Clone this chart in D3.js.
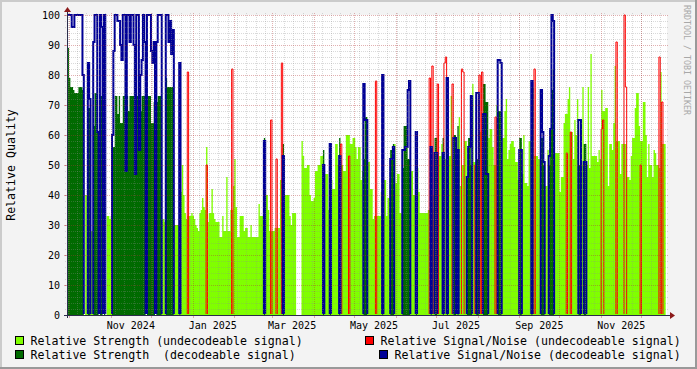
<!DOCTYPE html>
<html>
<head>
<meta charset="utf-8">
<script src="https://cdn.jsdelivr.net/npm/d3@7"></script>
<style>
  body { margin: 0; background: #f3f3f3; }
  svg { display: block; }
  text { font-family: "DejaVu Sans Mono", monospace; }
</style>
</head>
<body>
<div id="chart"></div>
<script>
// Daily values, first day = 29 Sep 2024 (UTC). 0 = no value of that kind that day.
const firstDay = Date.UTC(2024, 8, 29);

const strengthUndec = [
  0,0,0,0,0,0,0,0,0,0, 0,0,0,0,40,40,0,0,28,28, 0,0,0,0,0,0,0,0,0,0,
  33,33,32,33,0,0,0,0,0,0, 0,0,0,0,0,0,0,0,0,0, 0,0,0,0,0,0,0,0,0,0,
  0,0,0,0,0,0,0,0,0,0, 0,32,32,31,0,0,0,0,0,0, 30,30,30,30,0,41,50,40,34,32,
  33,33,33,34,33,32,30,29,28,34, 35,39,36,35,56,31,34,34,42,34, 32,31,31,31,26,26,33,28,28,46,
  28,28,35,35,43,52,36,26,26,33, 33,33,28,29,29,26,26,30,26,26, 26,26,26,37,33,33,33,0,40,40,
  35,28,28,28,28,29,29,29,29,45, 45,0,40,40,40,40,33,30,34,34, 34,0,0,0,0,58,53,49,49,50,
  50,40,38,38,39,48,48,50,50,53, 53,0,47,47,47,35,0,45,42,42, 57,57,50,0,50,50,48,48,60,60,
  60,57,57,59,59,56,52,56,56,45, 48,0,0,0,51,51,42,42,32,33, 33,33,33,33,41,0,45,45,33,39,
  39,0,0,0,57,44,47,47,34,34, 0,0,0,0,0,0,48,48,40,40, 0,49,41,34,34,34,34,34,34,35,
  35,0,35,40,0,0,40,53,53,57, 0,52,52,0,53,53,73,52,0,0, 50,0,66,43,50,50,58,58,0,0,
  0,0,77,51,51,0,0,61,61,61, 0,0,0,0,59,62,62,56,50,50, 70,0,0,0,59,59,68,72,52,55,
  57,58,58,56,51,51,45,0,0,47, 60,44,44,43,58,58,0,76,53,53, 53,52,52,0,0,0,43,43,55,0,
  0,0,0,54,54,54,54,41,46,46, 64,67,67,72,76,61,61,52,65,60, 72,0,0,50,76,0,0,50,76,49,
  87,53,53,53,53,51,55,52,75,68, 68,69,69,43,57,57,55,64,83,58, 58,58,47,57,57,57,57,46,46,45,
  53,59,59,69,74,74,63,58,58,71, 71,60,46,57,50,50,46,55,54,50, 50,49,81,57,57,57
];

const strengthDec = [
  90,89,79,76,76,75,74,74,74,76, 76,76,75,0,0,0,69,69,0,0, 63,74,74,61,0,73,73,0,73,0,
  0,0,0,0,56,56,73,73,67,73, 64,64,73,73,73,73,68,73,73,73, 73,73,73,73,68,68,73,73,73,0,
  73,73,73,64,64,71,0,71,73,73, 73,0,0,0,79,76,76,76,76,76, 0,0,0,0,76,0,0,0,0,0,
  0,0,0,0,0,0,0,0,0,0, 0,0,0,0,0,0,0,0,0,0, 0,0,0,0,0,0,0,0,0,0,
  0,0,0,0,0,0,0,0,0,0, 0,0,0,0,0,0,0,0,0,0, 0,0,0,0,0,0,0,59,0,0,
  0,0,0,0,0,0,0,0,0,0, 0,57,0,0,0,0,0,0,0,0, 0,0,0,0,0,0,0,0,0,0,
  0,0,0,0,0,0,0,0,0,0, 0,55,0,0,0,0,45,0,0,0, 0,0,0,59,0,0,0,0,0,0,
  0,0,0,0,0,0,0,0,0,0, 0,52,66,66,0,0,0,0,0,0, 0,0,0,0,0,45,0,0,0,0,
  0,55,55,57,0,0,0,0,0,0, 49,63,63,63,52,52,0,0,0,0, 49,0,0,0,0,0,0,0,0,0,
  0,45,0,0,59,59,0,0,0,0, 59,0,0,59,0,0,0,0,60,60, 0,63,0,0,0,0,0,0,46,59,
  59,50,0,0,0,52,52,0,0,0, 77,77,71,71,0,0,0,0,0,0, 0,68,68,68,0,0,0,0,0,0,
  0,0,0,0,0,0,0,59,59,0, 0,0,0,0,0,0,50,0,0,0, 0,0,0,59,59,50,0,0,0,50,
  62,75,82,0,0,0,0,0,0,0, 0,0,0,0,0,0,0,0,0,0, 0,50,50,0,0,57,57,0,0,0,
  0,0,0,0,0,0,0,0,0,0, 0,0,0,0,0,0,0,0,0,0, 0,0,0,0,0,0,0,0,0,0,
  0,0,0,0,0,0,0,0,0,0, 0,0,0,0,0,0,0,0,0,0, 0,0,0,0,0,0
];

const snrUndec = [
  0,0,0,0,0,0,0,0,0,0, 0,0,0,0,0,0,0,0,0,0, 0,0,0,0,0,0,0,0,0,0,
  0,0,0,0,0,0,0,0,0,0, 0,0,0,0,0,0,0,0,0,0, 0,0,0,0,0,0,0,0,0,0,
  0,0,0,0,0,0,0,0,0,0, 0,0,0,0,0,0,0,0,0,0, 0,0,0,0,0,0,0,0,0,0,
  81,0,0,0,0,0,0,0,0,0, 0,0,0,0,50,0,0,0,0,0, 0,0,0,0,0,0,0,0,0,0,
  0,0,0,82,0,0,0,0,0,0, 0,0,0,0,0,0,0,0,0,0, 0,0,0,0,0,0,0,0,0,0,
  0,0,65,0,0,0,52,0,0,0, 84,0,0,0,0,0,0,0,0,0, 0,0,0,0,0,0,0,0,0,0,
  0,0,0,0,0,0,0,0,0,0, 0,0,0,0,0,0,0,0,0,0, 0,0,0,0,57,0,0,0,0,0,
  53,0,0,0,0,0,0,0,0,0, 0,0,0,0,0,0,0,0,0,0, 78,0,0,0,0,0,0,0,0,0,
  0,0,0,0,0,0,0,0,0,0, 0,0,0,0,0,0,0,0,0,0, 0,0,0,0,0,0,0,0,0,0,
  79,0,83,0,0,0,77,0,0,0, 0,84,86,0,0,0,0,77,0,0, 0,0,0,0,82,81,0,0,0,0,
  0,0,0,0,50,0,0,80,0,81, 0,0,0,0,0,0,0,0,0,66, 0,0,0,0,0,0,0,0,0,0,
  0,0,0,0,0,0,0,0,0,0, 0,0,0,0,0,0,0,0,82,0, 0,0,0,0,0,0,0,0,0,0,
  0,0,0,0,0,0,0,0,0,0, 0,0,54,0,0,61,0,0,0,0, 0,0,0,0,0,0,0,0,0,0,
  0,0,0,0,0,0,0,0,62,65, 0,0,0,0,0,0,0,0,0,91, 0,0,0,0,0,100,76,0,0,0,
  0,0,0,0,0,0,0,50,0,0, 0,0,0,0,0,0,0,0,0,0, 0,86,0,71,0,0
];

const snrDec = [
  100,100,100,100,96,96,100,100,100,100, 100,100,80,0,0,0,84,72,0,0, 91,100,100,61,0,100,96,0,100,0,
  0,0,0,0,60,88,100,100,98,98, 90,85,100,100,48,100,100,91,100,100, 90,47,100,100,55,80,85,100,91,0,
  100,100,100,88,84,91,0,91,100,100, 100,0,0,0,100,100,91,98,87,95, 0,0,0,0,84,0,0,0,0,0,
  0,0,0,0,0,0,0,0,0,0, 0,0,0,0,0,0,0,0,0,0, 0,0,0,0,0,0,0,0,0,0,
  0,0,0,0,0,0,0,0,0,0, 0,0,0,0,0,0,0,0,0,0, 0,0,0,0,0,0,0,58,0,0,
  0,0,0,0,0,0,0,0,0,0, 0,53,0,0,0,0,0,0,0,0, 0,0,0,0,0,0,0,0,0,0,
  0,0,0,0,0,0,0,0,0,0, 0,50,0,0,0,0,57,0,0,0, 0,0,0,53,0,0,0,0,0,0,
  0,0,0,0,0,0,0,0,0,0, 0,77,65,65,0,0,0,0,0,0, 0,0,0,0,0,80,0,0,0,0,
  0,52,52,56,0,0,0,0,0,0, 55,55,56,56,75,78,0,0,0,0, 61,0,0,0,0,0,0,0,0,0,
  0,56,0,0,54,54,0,0,0,0, 54,0,0,79,0,0,0,0,59,59, 0,55,0,0,0,0,0,0,46,56,
  56,73,0,0,0,74,74,0,0,0, 67,67,47,47,0,0,0,0,0,0, 0,85,85,84,0,0,0,0,0,0,
  0,0,0,0,0,0,0,55,55,0, 0,0,0,0,0,0,78,0,0,0, 0,0,0,75,61,51,0,0,0,53,
  62,100,98,0,0,0,0,0,0,0, 0,0,0,0,0,0,0,0,0,0, 0,65,65,0,0,51,51,0,0,0,
  0,0,0,0,0,0,0,0,0,0, 0,0,0,0,0,0,0,0,0,0, 0,0,0,0,0,0,0,0,0,0,
  0,0,0,0,0,0,0,0,0,0, 0,0,0,0,0,0,0,0,0,0, 0,0,0,0,0,0
];

const yTicks = d3.range(0, 101, 10);
const legendLabels = [
  "Relative Strength (undecodeable signal)",
  "Relative Signal/Noise (undecodeable signal)",
  "Relative Strength  (decodeable signal)",
  "Relative Signal/Noise (decodeable signal)"
];
const legendColors = ["#80ff00", "#ff0000", "#006a00", "#000096"];

// Canvas ---------------------------------------------------------------------
const width = 697, height = 369;
const plotLeft = 67, plotRight = 667, plotTop = 15, plotBottom = 315;

const svg = d3.select("#chart").append("svg")
  .attr("width", width)
  .attr("height", height);

svg.append("rect").attr("width", width).attr("height", height).attr("fill", "#f3f3f3");
// 3d border like rrdtool
svg.append("path").attr("d", `M0,${height} V0 H${width}`).attr("fill", "none")
  .attr("stroke", "#cbcbcb").attr("stroke-width", 4);
svg.append("path").attr("d", `M0,${height} H${width} V0`).attr("fill", "none")
  .attr("stroke", "#999999").attr("stroke-width", 4);

svg.append("rect")
  .attr("x", plotLeft).attr("y", plotTop)
  .attr("width", plotRight - plotLeft).attr("height", plotBottom - plotTop)
  .attr("fill", "#ffffff");

const x = d3.scaleUtc()
  .domain([new Date(Date.UTC(2024, 8, 29, 12)), new Date(Date.UTC(2025, 11, 20))])
  .range([plotLeft, plotRight]);
const y = d3.scaleLinear().domain([0, 100]).range([plotBottom, plotTop]);

const days = strengthDec.map((d, i) => new Date(firstDay + i * 864e5));
const endDay = new Date(firstDay + days.length * 864e5);

const series = function(values) {
  const pts = values.map((v, i) => ({ date: days[i], v: v }));
  pts.push({ date: endDay, v: 0 });
  return pts;
};

const defs = svg.append("defs");
defs.append("clipPath").attr("id", "clipArea")
  .append("rect").attr("x", plotLeft).attr("y", plotTop)
  .attr("width", plotRight - plotLeft).attr("height", plotBottom - plotTop);
defs.append("clipPath").attr("id", "clipLine")
  .append("rect").attr("x", plotLeft).attr("y", plotTop - 2)
  .attr("width", plotRight - plotLeft).attr("height", plotBottom - plotTop + 1);

const area = d3.area()
  .curve(d3.curveStepAfter)
  .x(d => x(d.date))
  .y0(y(0))
  .y1(d => y(d.v));
const line = d3.line()
  .curve(d3.curveStepAfter)
  .x(d => x(d.date))
  .y(d => y(d.v));

const plot = svg.append("g").attr("clip-path", "url(#clipArea)");
plot.append("path").attr("d", area(series(strengthUndec))).attr("fill", legendColors[0]);
plot.append("path").attr("d", area(series(strengthDec))).attr("fill", legendColors[2]);

const lines = svg.append("g").attr("clip-path", "url(#clipLine)");
lines.append("path").attr("d", line(series(snrUndec)))
  .attr("fill", "none").attr("stroke", legendColors[1]).attr("stroke-width", 1);
lines.append("path").attr("d", line(series(snrDec)))
  .attr("fill", "none").attr("stroke", legendColors[3]).attr("stroke-width", 2);

// Grid -----------------------------------------------------------------------
const gridColor = "rgba(140,140,140,0.32)";
const mgridColor = "rgba(180,50,50,0.38)";
const grid = svg.append("g").attr("shape-rendering", "crispEdges");

d3.range(0, 101, 2).filter(v => v % 10 != 0).forEach(v => {
  grid.append("line")
    .attr("x1", plotLeft - 2).attr("x2", plotRight + 2)
    .attr("y1", Math.round(y(v)) + 0.5).attr("y2", Math.round(y(v)) + 0.5)
    .attr("stroke", gridColor).attr("stroke-dasharray", "1,1");
});
d3.utcMonday.range(x.domain()[0], x.domain()[1]).forEach(d => {
  const px = Math.round(x(d)) + 0.5;
  grid.append("line")
    .attr("x1", px).attr("x2", px).attr("y1", plotTop - 2).attr("y2", plotBottom + 2)
    .attr("stroke", gridColor).attr("stroke-dasharray", "1,1");
});
yTicks.forEach(v => {
  const py = Math.round(y(v)) + 0.5;
  grid.append("line")
    .attr("x1", plotLeft - 2).attr("x2", plotRight + 2).attr("y1", py).attr("y2", py)
    .attr("stroke", mgridColor).attr("stroke-dasharray", "1,1");
  grid.append("line")
    .attr("x1", plotLeft - 3).attr("x2", plotLeft).attr("y1", py).attr("y2", py)
    .attr("stroke", mgridColor);
});
d3.utcMonth.range(x.domain()[0], x.domain()[1]).forEach(d => {
  const px = Math.round(x(d)) + 0.5;
  grid.append("line")
    .attr("x1", px).attr("x2", px).attr("y1", plotTop - 2).attr("y2", plotBottom + 2)
    .attr("stroke", mgridColor).attr("stroke-dasharray", "1,1");
  grid.append("line")
    .attr("x1", px).attr("x2", px).attr("y1", plotBottom).attr("y2", plotBottom + 3)
    .attr("stroke", mgridColor);
});

// Axes -----------------------------------------------------------------------
const axisColor = "#2c2c4a";
svg.append("line")
  .attr("x1", plotLeft - 3).attr("x2", plotRight + 4)
  .attr("y1", plotBottom + 0.5).attr("y2", plotBottom + 0.5)
  .attr("stroke", axisColor);
svg.append("line")
  .attr("x1", plotLeft + 0.5).attr("x2", plotLeft + 0.5)
  .attr("y1", plotBottom + 3).attr("y2", plotTop - 4)
  .attr("stroke", axisColor);
svg.append("path")
  .attr("d", `M${plotRight + 3},${plotBottom - 3} L${plotRight + 8},${plotBottom + 0.5} L${plotRight + 3},${plotBottom + 4} Z`)
  .attr("fill", "#8b1a1a");
svg.append("path")
  .attr("d", `M${plotLeft - 3},${plotTop - 3} L${plotLeft + 0.5},${plotTop - 8} L${plotLeft + 4},${plotTop - 3} Z`)
  .attr("fill", "#8b1a1a");

svg.append("g").selectAll("text")
  .data(yTicks)
  .join("text")
  .attr("x", plotLeft - 7)
  .attr("y", d => y(d))
  .attr("dy", "0.35em")
  .attr("text-anchor", "end")
  .style("font-size", "10px")
  .text(d => d);

const monthFormat = d3.utcFormat("%b %Y");
const labelMonths = d3.utcMonth.every(2).range(new Date(Date.UTC(2024, 8, 1)), x.domain()[1])
  .map(d => new Date(+d + 15 * 864e5))
  .filter(d => d >= x.domain()[0] && d <= x.domain()[1]);
svg.append("g").selectAll("text")
  .data(labelMonths)
  .join("text")
  .attr("x", d => x(d))
  .attr("y", plotBottom + 14)
  .attr("text-anchor", "middle")
  .style("font-size", "10px")
  .text(d => monthFormat(new Date(+d - 15 * 864e5)));

svg.append("text")
  .attr("transform", "translate(15," + ((plotTop + plotBottom) / 2) + ") rotate(-90)")
  .attr("text-anchor", "middle")
  .style("font-size", "11.6px")
  .text("Relative Quality");

svg.append("text")
  .attr("transform", "translate(684,60) rotate(90)")
  .attr("text-anchor", "middle")
  .attr("fill", "#a8a8a8")
  .style("font-size", "8.3px")
  .text("RRDTOOL / TOBI OETIKER");

// Legend ---------------------------------------------------------------------
const legendPos = [[15, 341], [365, 341], [15, 355], [379, 355]];
const legend = svg.append("g");
legendLabels.forEach((label, i) => {
  const [lx, ly] = legendPos[i];
  legend.append("rect")
    .attr("x", lx + 0.5).attr("y", ly - 4.5).attr("width", 8).attr("height", 8)
    .attr("fill", legendColors[i]).attr("stroke", "#000");
  legend.append("text")
    .attr("x", lx + 15.5).attr("y", ly)
    .attr("dy", "0.35em")
    .style("font-size", "11.6px")
    .style("white-space", "pre")
    .attr("xml:space", "preserve")
    .text(label);
});
</script>
</body>
</html>
